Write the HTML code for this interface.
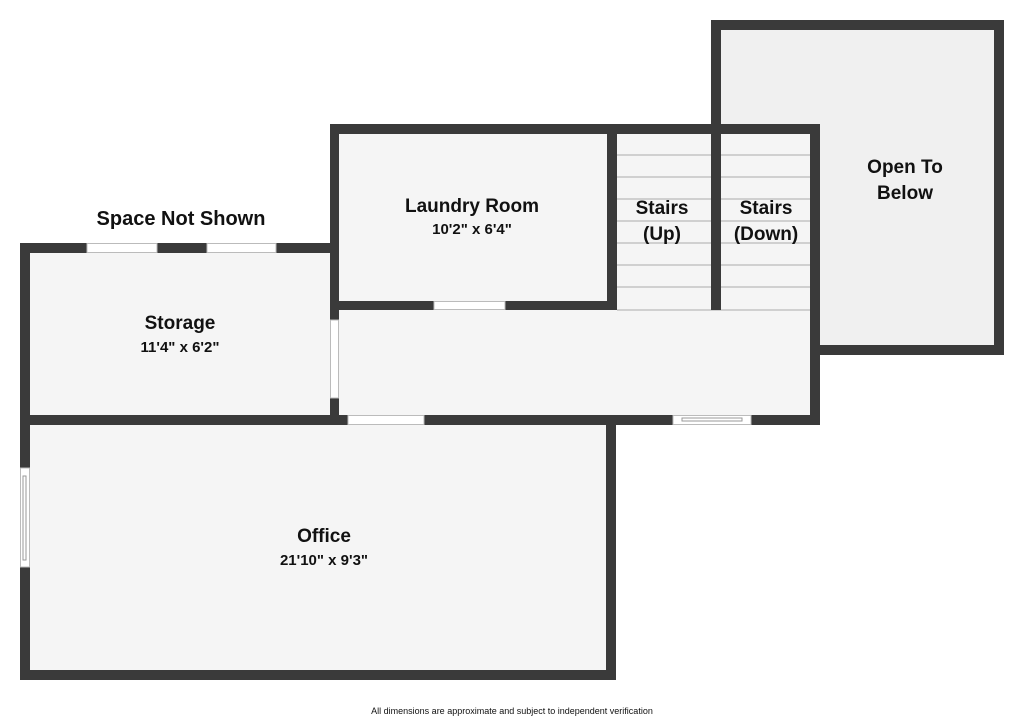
<!DOCTYPE html>
<html><head><meta charset="utf-8"><style>
html,body{margin:0;padding:0;background:#fff;width:1024px;height:720px;overflow:hidden}
svg{display:block}
text{font-family:"Liberation Sans",sans-serif;font-weight:bold;fill:#111;text-anchor:middle}
</style></head><body>
<svg width="1024" height="720" viewBox="0 0 1024 720">
<!-- fills -->
<rect x="711" y="20" width="293" height="335" fill="#f0f0f0"/>
<rect x="20" y="243" width="318" height="182" fill="#f5f5f5"/>
<rect x="330" y="124" width="490" height="300" fill="#f5f5f5"/>
<rect x="20" y="415" width="596" height="265" fill="#f5f5f5"/>
<!-- stair treads -->
<g stroke="#c4c4c4" stroke-width="1.5">
<line x1="617" y1="155" x2="711" y2="155"/><line x1="720" y1="155" x2="810" y2="155"/>
<line x1="617" y1="177" x2="711" y2="177"/><line x1="720" y1="177" x2="810" y2="177"/>
<line x1="617" y1="199" x2="711" y2="199"/><line x1="720" y1="199" x2="810" y2="199"/>
<line x1="617" y1="221" x2="711" y2="221"/><line x1="720" y1="221" x2="810" y2="221"/>
<line x1="617" y1="243" x2="711" y2="243"/><line x1="720" y1="243" x2="810" y2="243"/>
<line x1="617" y1="265" x2="711" y2="265"/><line x1="720" y1="265" x2="810" y2="265"/>
<line x1="617" y1="287" x2="711" y2="287"/><line x1="720" y1="287" x2="810" y2="287"/>
<line x1="617" y1="310" x2="810" y2="310"/>
</g>
<g fill="#3a3a3a">
<!-- open to below -->
<rect x="711" y="20" width="293" height="10"/>
<rect x="994" y="20" width="10" height="335"/>
<rect x="810" y="345" width="194" height="10"/>
<rect x="711" y="20" width="10" height="290"/>
<!-- laundry/stairs top -->
<rect x="330" y="124" width="490" height="10"/>
<rect x="810" y="124" width="10" height="300"/>
<rect x="607" y="124" width="10" height="186"/>
<!-- laundry left -->
<rect x="330" y="124" width="9" height="196"/>
<rect x="330" y="398" width="9" height="27"/>
<!-- laundry bottom -->
<rect x="338" y="301" width="96" height="9"/>
<rect x="505" y="301" width="112" height="9"/>
<!-- storage -->
<rect x="20" y="243" width="67" height="10"/>
<rect x="157" y="243" width="50" height="10"/>
<rect x="276" y="243" width="62" height="10"/>
<rect x="20" y="243" width="10" height="225"/>
<rect x="20" y="567" width="10" height="113"/>
<!-- middle horizontal -->
<rect x="20" y="415" width="328" height="10"/>
<rect x="424" y="415" width="249" height="10"/>
<rect x="751" y="415" width="69" height="10"/>
<!-- office -->
<rect x="606" y="415" width="10" height="265"/>
<rect x="20" y="670" width="596" height="10"/>
</g>
<!-- windows/doors -->
<g fill="#fff" stroke="#bbb" stroke-width="1">
<rect x="87" y="243.5" width="70" height="9"/>
<rect x="207" y="243.5" width="69" height="9"/>
<rect x="434" y="301.5" width="71" height="8"/>
<rect x="330.5" y="320" width="8" height="78"/>
<rect x="348" y="415.5" width="76" height="9"/>
<rect x="673" y="415.5" width="78" height="9"/>
<rect x="20.5" y="468" width="9" height="99"/>
</g>
<g stroke="#999" stroke-width="1" fill="none">
<rect x="682" y="418" width="60" height="3"/>
<rect x="23" y="476" width="3" height="84"/>
</g>
<text x="181" y="225" font-size="20">Space Not Shown</text>
<text x="180" y="329" font-size="19">Storage</text>
<text x="180" y="352" font-size="15">11'4" x 6'2"</text>
<text x="472" y="212" font-size="19">Laundry Room</text>
<text x="472" y="234" font-size="15">10'2" x 6'4"</text>
<text x="662" y="214" font-size="19">Stairs</text>
<text x="662" y="240" font-size="19">(Up)</text>
<text x="766" y="214" font-size="19">Stairs</text>
<text x="766" y="240" font-size="19">(Down)</text>
<text x="905" y="173" font-size="19">Open To</text>
<text x="905" y="199" font-size="19">Below</text>
<text x="324" y="542" font-size="19">Office</text>
<text x="324" y="565" font-size="15">21'10" x 9'3"</text>
<text x="512" y="714" font-size="9" style="font-weight:normal">All dimensions are approximate and subject to independent verification</text>
</svg>
</body></html>
